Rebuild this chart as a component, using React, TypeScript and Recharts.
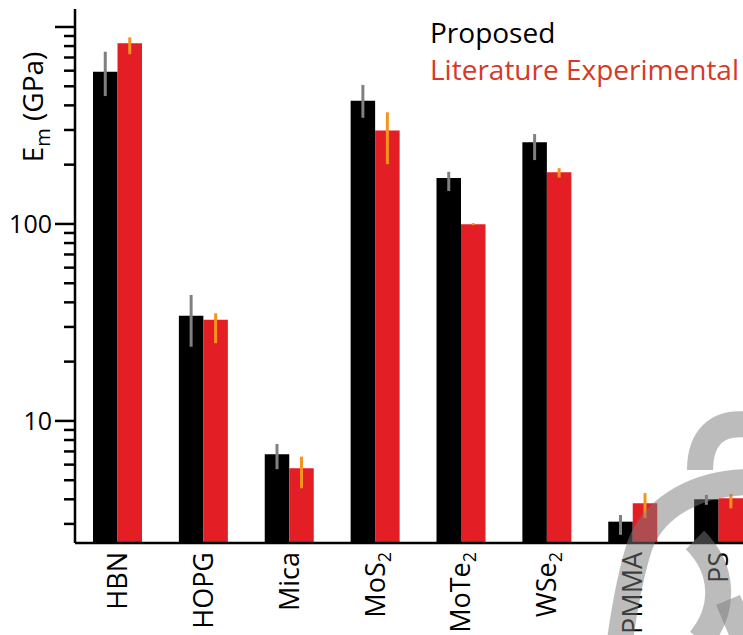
import { Bar, BarChart, ErrorBar, XAxis, YAxis } from 'recharts';

const materials = ['HBN', 'HOPG', 'Mica', 'MoS2', 'MoTe2', 'WSe2', 'PMMA', 'PS'];
const proposed = [593, 34.2, 6.78, 422, 171, 260, 3.08, 4.0];
const proposedErrLow = [147, 10.4, 1.09, 76, 24, 49, 0.44, 0.25];
const proposedErrHigh = [156, 9.4, 0.86, 86, 13, 26, 0.25, 0.21];
const literature = [826, 32.6, 5.75, 298, 99.7, 183, 3.82, 4.05];
const literatureErrLow = [99, 7.8, 1.2, 97, 1.1, 11, 0.61, 0.45];
const literatureErrHigh = [60, 2.6, 0.84, 71, 1.3, 9, 0.48, 0.21];

const yTicks = [3, 4, 5, 6, 7, 8, 9, 10, 20, 30, 40, 50, 60, 70, 80, 90, 100, 200, 300, 400, 500, 600, 700, 800, 900, 1000];
const majorTicks = [10, 100, 1000];
const labeledTicks = [10, 100];

const FONT = '"Open Sans", sans-serif';
const RED = '#e31e25';
const LEGEND_RED = '#d63a27';

const data = materials.map((m, i) => ({
  name: m,
  proposed: proposed[i],
  proposedErr: [proposedErrLow[i], proposedErrHigh[i]],
  literature: literature[i],
  literatureErr: [literatureErrLow[i], literatureErrHigh[i]],
}));

function YTick(props: any) {
  const { x, y, payload } = props;
  const v = payload.value;
  const major = majorTicks.includes(v);
  return (
    <g>
      <line x1={x - (major ? 20 : 11)} x2={x} y1={y} y2={y} stroke="#000" strokeWidth={2.5} />
      {labeledTicks.includes(v) && (
        <text x={x - 23} y={y} dy={9} textAnchor="end" fontSize={25} fontFamily={FONT} fill="#000">
          {v}
        </text>
      )}
    </g>
  );
}

function XTick(props: any) {
  const { x, y, payload } = props;
  const m = String(payload.value).match(/^(.*?)(\d*)$/) as RegExpMatchArray;
  return (
    <text
      transform={`translate(${x + 9},${y + 9}) rotate(-90)`}
      textAnchor="end"
      fontSize={27}
      fontFamily={FONT}
      fill="#000"
    >
      {m[1]}
      {m[2] && (
        <tspan dy={6} fontSize={18}>
          {m[2]}
        </tspan>
      )}
    </text>
  );
}

function YLabel() {
  return (
    <text transform="translate(43,107) rotate(-90)" textAnchor="middle" fontSize={28} fontFamily={FONT} fill="#000">
      E
      <tspan dy={7} fontSize={20}>m</tspan>
      <tspan dy={-7}> (GPa)</tspan>
    </text>
  );
}

// faint watermark in the lower right corner of the source figure
function Watermark() {
  const s = { fill: 'none', stroke: '#7a7a7a', strokeOpacity: 0.5, strokeWidth: 26 };
  return (
    <svg width={743} height={635} style={{ position: 'absolute', left: 0, top: 0, pointerEvents: 'none' }}>
      <path d="M 700 470 C 700 440, 715 420, 750 425" {...s} />
      <path d="M 750 482 C 700 482, 655 505, 640 545 C 630 575, 625 605, 620 640" {...s} />
      <path d="M 695 540 C 725 570, 725 610, 700 640" {...s} />
      <path d="M 728 600 L 743 635" {...s} />
    </svg>
  );
}

export default function App() {
  return (
    <div style={{ position: 'fixed', left: 0, top: 0, width: 743, height: 635, overflow: 'hidden', background: '#fff' }}>
      <BarChart width={762} height={635} data={data} margin={{ top: 9, right: 0, left: 0, bottom: 0 }} barGap={0} barSize={24.5}>
        <XAxis
          dataKey="name"
          height={92}
          tick={<XTick />}
          tickLine={false}
          tickSize={0}
          tickMargin={0}
          axisLine={{ stroke: '#000', strokeWidth: 2.5 }}
          interval={0}
        />
        <YAxis
          width={75}
          scale="log"
          domain={[2.4, 1234]}
          allowDataOverflow
          ticks={yTicks}
          interval={0}
          tick={<YTick />}
          tickLine={false}
          tickSize={0}
          tickMargin={0}
          axisLine={{ stroke: '#000', strokeWidth: 2.5 }}
          label={<YLabel />}
        />
        <Bar dataKey="proposed" fill="#000" isAnimationActive={false}>
          <ErrorBar dataKey="proposedErr" direction="y" width={0} stroke="#808080" strokeWidth={3} />
        </Bar>
        <Bar dataKey="literature" fill={RED} isAnimationActive={false}>
          <ErrorBar dataKey="literatureErr" direction="y" width={0} stroke="#f7941d" strokeWidth={3} />
        </Bar>
      </BarChart>
      <div style={{ position: 'absolute', top: 14, left: 430, fontFamily: FONT, fontSize: 28, lineHeight: '37px' }}>
        <div style={{ color: '#000' }}>Proposed</div>
        <div style={{ color: LEGEND_RED }}>Literature Experimental</div>
      </div>
      <Watermark />
    </div>
  );
}
